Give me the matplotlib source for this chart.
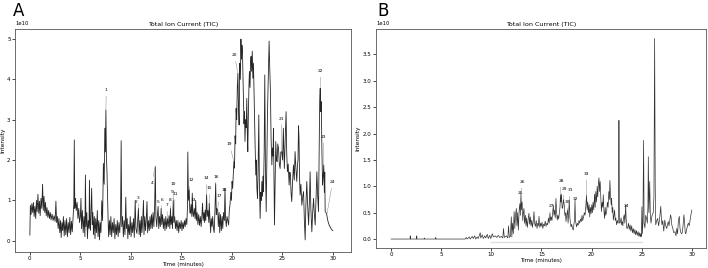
import numpy as np
import matplotlib
matplotlib.use("Agg")
import matplotlib.pyplot as plt

# ---- Panel A: TIC trace (time in minutes, intensity in 1e10) ----
time_a = [
    0.00, 0.05, 0.12, 0.20, 0.28, 0.35, 0.42, 0.50, 0.58, 0.65, 0.72, 0.80, 0.88, 0.95,
    1.02, 1.10, 1.18, 1.26, 1.33, 1.40, 1.48, 1.55, 1.62, 1.70, 1.78, 1.86, 1.94,
    2.02, 2.10, 2.20, 2.30, 2.40, 2.50, 2.58, 2.65, 2.72, 2.80, 2.88, 2.96,
    3.04, 3.10, 3.18, 3.25, 3.32, 3.40, 3.48, 3.56, 3.64, 3.72, 3.80, 3.88, 3.96,
    4.04, 4.12, 4.20, 4.28, 4.35, 4.40, 4.45, 4.52, 4.60, 4.68, 4.76, 4.84, 4.92, 5.00,
    5.06, 5.12, 5.20, 5.28, 5.36, 5.45, 5.50, 5.56, 5.64, 5.70, 5.78, 5.86, 5.90, 5.95, 6.00, 6.06,
    6.12, 6.18, 6.24, 6.30, 6.38, 6.45, 6.52, 6.60, 6.68, 6.75, 6.82, 6.90, 6.96,
    7.04, 7.12, 7.20, 7.28, 7.36, 7.42, 7.48, 7.53, 7.58, 7.64, 7.70, 7.76, 7.80, 7.88, 7.95,
    8.02, 8.10, 8.18, 8.26, 8.34, 8.42, 8.50, 8.58, 8.66, 8.74, 8.82, 8.90, 8.98,
    9.04, 9.10, 9.18, 9.26, 9.34, 9.42, 9.50, 9.56, 9.64, 9.70, 9.78, 9.86, 9.94,
    10.02, 10.10, 10.18, 10.26, 10.34, 10.43, 10.50, 10.60, 10.68, 10.75, 10.82, 10.90, 10.96,
    11.04, 11.10, 11.18, 11.25, 11.30, 11.38, 11.45, 11.52, 11.60, 11.66, 11.74, 11.82, 11.90, 11.97,
    12.05, 12.12, 12.20, 12.28, 12.36, 12.42, 12.48, 12.56, 12.62, 12.70, 12.76, 12.84, 12.92, 13.00,
    13.06, 13.14, 13.22, 13.30, 13.38, 13.46, 13.54, 13.62, 13.70, 13.78, 13.86, 13.92, 13.98,
    14.06, 14.12, 14.20, 14.26, 14.34, 14.42, 14.50, 14.58, 14.66, 14.74, 14.82, 14.90, 14.98,
    15.06, 15.14, 15.22, 15.30, 15.38, 15.46, 15.54, 15.60, 15.64, 15.70, 15.78, 15.84, 15.90, 15.96,
    16.04, 16.08, 16.14, 16.20, 16.28, 16.36, 16.42, 16.48, 16.56, 16.64, 16.72, 16.80, 16.88, 16.96,
    17.04, 17.10, 17.16, 17.24, 17.30, 17.36, 17.42, 17.50, 17.56, 17.64, 17.72, 17.76, 17.84, 17.90, 17.96,
    18.04, 18.10, 18.18, 18.25, 18.32, 18.40, 18.46, 18.52, 18.60, 18.66, 18.74, 18.80, 18.88, 18.96,
    19.04, 19.10, 19.18, 19.26, 19.32, 19.38, 19.45, 19.52, 19.60, 19.68, 19.75, 19.82, 19.90, 19.96,
    20.02, 20.08, 20.15, 20.20, 20.26, 20.32, 20.38, 20.42, 20.48, 20.54, 20.60, 20.66, 20.72, 20.78, 20.84, 20.90, 20.95, 21.00,
    21.05, 21.10, 21.15, 21.20, 21.25, 21.30, 21.36, 21.42, 21.48, 21.53, 21.58, 21.64, 21.70, 21.74, 21.80, 21.85, 21.90, 21.96,
    22.02, 22.08, 22.14, 22.20, 22.24, 22.30, 22.37, 22.42, 22.48, 22.54, 22.60, 22.67, 22.72, 22.80, 22.86, 22.92, 22.97,
    23.04, 23.10, 23.13, 23.20, 23.26, 23.32, 23.36, 23.40, 23.46, 23.53, 23.60, 23.65, 23.69, 23.75, 23.82, 23.88, 23.96,
    24.02, 24.08, 24.12, 24.17, 24.22, 24.28, 24.35, 24.42, 24.48, 24.55, 24.62, 24.70, 24.78, 24.85, 24.94,
    25.02, 25.10, 25.15, 25.20, 25.28, 25.37, 25.43, 25.50, 25.58, 25.67, 25.74, 25.80, 25.86, 25.93,
    26.00, 26.10, 26.18, 26.26, 26.34, 26.43, 26.50, 26.55, 26.60, 26.65, 26.70, 26.76, 26.84, 26.93,
    27.02, 27.10, 27.18, 27.26, 27.32, 27.42, 27.50, 27.60, 27.68, 27.75, 27.82, 27.92, 28.00,
    28.09, 28.16, 28.25, 28.33, 28.42, 28.50, 28.58, 28.64, 28.70, 28.75, 28.80, 28.85, 28.92, 28.98,
    29.04, 29.10, 29.16, 29.20, 29.24, 29.32, 29.40, 29.50, 29.63, 29.75, 29.90, 30.00,
]
tic_a = [
    0.14, 0.88, 0.65, 0.92, 0.70, 0.95, 0.60, 0.85, 0.55, 1.00, 0.72, 1.15, 0.68, 0.98,
    0.62, 1.05, 0.80, 1.40, 0.75, 1.10, 0.70, 0.95, 0.62, 0.82, 0.58, 0.75, 0.55,
    0.70, 0.52, 0.66, 0.50, 0.62, 0.48, 0.98, 0.45, 0.60, 0.30, 0.55, 0.20,
    0.50, 0.08, 0.45, 0.25, 0.60, 0.12, 0.50, 0.15, 0.55, 0.10, 0.45, 0.20, 0.58,
    0.15, 0.48, 0.22, 0.60, 0.90, 2.50, 0.80, 1.05, 0.75, 0.95, 0.55, 0.80, 0.45, 0.60,
    1.05, 0.30, 0.75, 0.20, 0.60, 0.10, 1.63, 0.35, 0.70, 0.05, 0.50, 0.30, 1.50, 0.40, 0.26, 0.80,
    1.30, 0.40, 0.70, 0.15, 0.60, 0.05, 0.55, 0.20, 0.75, 0.10, 0.50, 0.02, 0.45,
    0.20, 0.99, 0.50, 1.92, 1.40, 2.79, 2.20, 3.24, 2.10, 1.67, 0.99, 0.40, 0.10, 0.50, 0.15,
    0.60, 0.10, 0.45, 0.20, 0.55, 0.05, 0.40, 0.15, 0.50, 0.10, 0.45, 0.20, 0.60,
    2.48, 0.35, 0.60, 0.10, 0.50, 0.15, 1.08, 0.30, 0.55, 0.05, 0.40, 0.15, 0.60,
    0.10, 0.45, 0.20, 0.55, 0.08, 1.00, 0.30, 0.18, 0.50, 0.80, 0.15, 0.50, 0.10,
    0.60, 0.20, 0.55, 1.00, 0.15, 0.60, 0.25, 0.50, 0.97, 0.20, 0.50, 0.25, 0.60, 0.30,
    0.65, 0.30, 0.70, 0.35, 0.90, 1.84, 0.60, 0.35, 0.60, 0.85, 0.30, 0.60, 0.35, 0.80,
    0.40, 0.65, 0.30, 0.55, 0.25, 0.60, 0.30, 0.55, 0.35, 0.62, 0.30, 0.80, 0.40,
    0.60, 0.30, 1.00, 0.45, 0.60, 0.30, 0.50, 0.25, 0.50, 0.20, 0.45, 0.30, 0.50,
    0.25, 0.45, 0.30, 0.50, 0.35, 0.55, 0.40, 0.80, 2.20, 1.00, 1.26, 0.70, 0.68, 0.90,
    0.60, 1.18, 0.70, 0.60, 0.80, 0.55, 1.00, 0.50, 0.70, 0.40, 0.65, 0.38, 0.60, 0.35,
    0.65, 0.93, 0.50, 0.70, 0.45, 0.76, 0.50, 1.14, 0.60, 0.75, 0.45, 0.93, 0.50, 0.20, 0.55,
    0.35, 0.60, 0.30, 0.20, 0.70, 1.42, 0.65, 0.80, 0.76, 0.35, 0.70, 0.20, 0.65, 0.25,
    0.60, 0.30, 0.70, 0.50, 1.30, 0.55, 0.35, 0.60, 0.50, 0.39, 0.76, 0.90, 1.20, 1.00,
    1.47, 1.30, 1.70, 1.96, 1.80, 2.60, 2.40, 3.28, 3.00, 3.80, 4.15, 3.30, 2.87, 4.40, 4.00, 5.00, 4.50, 4.85,
    4.70, 4.10, 3.37, 2.90, 3.20, 2.46, 3.00, 2.80, 3.53, 2.70, 2.21, 3.20, 3.90, 4.20, 3.80, 4.40, 4.57, 4.20,
    4.70, 4.03, 4.40, 3.60, 3.20, 2.40, 1.63, 2.00, 1.30, 1.05, 1.80, 3.12, 1.50, 0.55, 1.20, 1.00, 1.47,
    1.10, 1.60, 1.22, 2.20, 4.11, 2.00, 1.30, 0.72, 1.90, 3.20, 4.00, 4.50, 4.95, 4.30, 3.70, 2.60, 1.88,
    2.30, 2.10, 2.79, 1.50, 0.39, 1.40, 2.46, 2.00, 1.96, 2.40, 2.29, 1.90, 1.79, 2.20, 2.21,
    2.00, 2.79, 2.20, 1.79, 2.50, 3.20, 2.20, 1.71, 1.90, 1.38, 1.70, 1.63, 1.20, 0.97,
    1.40, 1.88, 1.50, 2.21, 1.80, 1.47, 1.90, 2.00, 2.85, 2.54, 1.60, 1.13, 1.40, 0.88,
    1.10, 1.22, 0.50, 0.02, 0.80, 1.47, 0.90, 0.39, 1.00, 1.71, 0.80, 0.22, 0.70,
    1.05, 0.70, 0.39, 1.00, 1.71, 1.10, 0.72, 2.20, 3.50, 3.78, 3.20, 3.45, 2.20, 1.38,
    1.60, 1.88, 1.20, 1.70, 0.72, 0.70, 0.64, 0.50, 0.39, 0.33, 0.27, 0.25,
]

# peak labels, panel A
peak_num_a = [str(i) for i in range(1, 25)]
peak_time_a = [7.53, 10.43, 10.75, 12.42, 12.70, 13.00, 13.62, 13.92, 14.20, 14.20, 14.26, 15.78,
               16.08, 17.50, 17.76, 18.40, 18.60, 19.32, 20.20, 20.60, 24.94, 28.75, 29.10, 29.40]
label_time_a = [7.56, 10.50, 10.76, 12.08, 12.67, 13.10, 13.56, 13.90, 14.06, 14.19, 14.39, 15.94,
                16.14, 17.43, 17.79, 18.48, 18.71, 19.27, 19.77, 20.26, 24.95, 28.75, 29.10, 29.97]
label_int_a = [3.74, 0.97, 1.07, 1.44, 0.97, 1.02, 0.88, 1.02, 1.21, 1.40, 1.17, 1.50,
               1.00, 1.55, 1.30, 1.57, 1.12, 1.27, 2.39, 4.60, 3.03, 4.21, 2.58, 1.45]

# ---- Panel B ----
time_b = [
    0.00, 1.90, 1.92, 1.94, 2.55, 2.57, 2.59, 3.30, 3.32, 3.34, 4.45, 4.47, 4.49,
    7.40, 7.50, 7.60, 7.80, 7.90, 8.10, 8.20, 8.35, 8.45, 8.60, 8.70, 8.90, 8.95,
    9.10, 9.20, 9.35, 9.45, 9.60, 9.70, 9.85, 9.95,
    10.10, 10.20, 10.40, 10.55, 10.70, 10.85, 11.00, 11.15, 11.22, 11.30, 11.50, 11.65, 11.72, 11.80, 11.90,
    12.00, 12.05, 12.12, 12.20, 12.28, 12.35, 12.42, 12.50, 12.56, 12.63, 12.70, 12.78, 12.85, 12.90, 12.96,
    13.02, 13.08, 13.14, 13.20, 13.26, 13.32, 13.40, 13.46, 13.52, 13.60, 13.68, 13.76, 13.82, 13.90, 13.96,
    14.04, 14.10, 14.18, 14.26, 14.32, 14.40, 14.48, 14.56, 14.64, 14.70, 14.76, 14.84, 14.92, 14.98,
    15.06, 15.14, 15.22, 15.30, 15.38, 15.46, 15.54, 15.62, 15.70, 15.78, 15.85, 15.92, 15.98,
    16.05, 16.12, 16.19, 16.25, 16.32, 16.38, 16.45, 16.52, 16.58, 16.65, 16.72, 16.78, 16.85, 16.90, 16.95, 17.00,
    17.06, 17.12, 17.20, 17.28, 17.34, 17.40, 17.45, 17.52, 17.60, 17.66, 17.72, 17.78, 17.84, 17.90, 17.95,
    18.02, 18.10, 18.18, 18.25, 18.30, 18.35, 18.40, 18.50, 18.58, 18.66, 18.74, 18.82, 18.90, 18.98,
    19.05, 19.12, 19.20, 19.28, 19.35, 19.42, 19.50, 19.56, 19.62, 19.70, 19.76, 19.82, 19.88, 19.95,
    20.02, 20.08, 20.15, 20.22, 20.30, 20.36, 20.42, 20.50, 20.56, 20.62, 20.68, 20.74, 20.80, 20.86, 20.92, 20.98,
    21.05, 21.12, 21.17, 21.23, 21.30, 21.36, 21.42, 21.50, 21.58, 21.65, 21.72, 21.78, 21.83, 21.90, 21.96,
    22.00, 22.06, 22.12, 22.17, 22.24, 22.30, 22.36, 22.42, 22.50, 22.58, 22.65, 22.70, 22.73, 22.77, 22.82, 22.87, 22.95,
    23.00, 23.06, 23.12, 23.18, 23.26, 23.32, 23.40, 23.46, 23.52, 23.60, 23.68, 23.76, 23.84, 23.92,
    24.00, 24.08, 24.16, 24.24, 24.32, 24.40, 24.48, 24.56, 24.64, 24.72, 24.80, 24.86, 24.92, 24.97,
    25.02, 25.06, 25.12, 25.19, 25.24, 25.32, 25.40, 25.49, 25.56, 25.62, 25.66, 25.72, 25.80, 25.86, 25.93, 25.98,
    26.05, 26.15, 26.22, 26.29, 26.35, 26.40, 26.50, 26.59, 26.68, 26.75, 26.82, 26.90, 26.96,
    27.02, 27.10, 27.20, 27.30, 27.40, 27.50, 27.58, 27.65, 27.72, 27.80, 27.88, 27.94, 28.00,
    28.10, 28.20, 28.32, 28.42, 28.50, 28.58, 28.66, 28.75, 28.82, 28.88, 28.96,
    29.04, 29.12, 29.21, 29.28, 29.34, 29.40, 29.50, 29.58, 29.66, 29.74, 29.80, 29.90, 30.00,
]
tic_b = [
    0.00, 0.00, 0.06, 0.00, 0.00, 0.06, 0.00, 0.00, 0.02, 0.00, 0.00, 0.03, 0.00,
    0.00, 0.03, 0.00, 0.04, 0.00, 0.05, 0.01, 0.06, 0.00, 0.04, 0.01, 0.12, 0.02,
    0.08, 0.01, 0.06, 0.02, 0.09, 0.01, 0.07, 0.01,
    0.10, 0.04, 0.06, 0.03, 0.07, 0.03, 0.05, 0.02, 0.20, 0.03, 0.06, 0.02, 0.25, 0.03, 0.05,
    0.42, 0.04, 0.30, 0.10, 0.52, 0.20, 0.45, 0.58, 0.25, 0.50, 0.17, 0.55, 0.67, 0.45, 0.86,
    0.55, 0.70, 0.35, 0.50, 0.58, 0.30, 0.45, 0.25, 0.40, 0.22, 0.38, 0.49, 0.28, 0.42, 0.25,
    0.36, 0.22, 0.32, 0.52, 0.30, 0.24, 0.35, 0.20, 0.30, 0.25, 0.43, 0.22, 0.30, 0.24,
    0.32, 0.20, 0.28, 0.25, 0.34, 0.24, 0.30, 0.27, 0.40, 0.30, 0.49, 0.35, 0.42,
    0.35, 0.50, 0.64, 0.45, 0.55, 0.40, 0.77, 0.50, 0.36, 0.45, 0.38, 0.48, 0.60, 0.84, 0.70, 0.85,
    0.60, 0.58, 0.75, 0.64, 0.45, 0.50, 0.33, 0.45, 0.55, 0.30, 0.50, 0.74, 0.40, 0.30, 0.23,
    0.28, 0.20, 0.17, 0.30, 0.35, 0.74, 0.35, 0.23, 0.30, 0.26, 0.35, 0.30, 0.38, 0.33,
    0.45, 0.35, 0.42, 0.50, 0.45, 0.60, 0.83, 0.55, 0.70, 0.50, 0.65, 0.42, 0.60, 0.48,
    0.65, 0.50, 0.70, 0.55, 0.85, 0.60, 0.90, 0.70, 1.00, 0.80, 1.05, 1.16, 0.90, 1.09, 0.80, 0.52,
    0.70, 0.60, 0.84, 0.55, 0.39, 0.60, 0.45, 0.52, 0.70, 0.60, 0.90, 0.75, 1.11, 0.80, 0.65,
    0.77, 0.50, 0.60, 0.36, 0.45, 0.55, 0.35, 0.40, 0.27, 0.35, 0.30, 0.50, 2.25, 0.45, 0.30, 0.33, 0.40,
    0.27, 0.33, 0.25, 0.40, 0.46, 0.30, 0.64, 0.35, 0.20, 0.21, 0.30, 0.18, 0.27, 0.15,
    0.25, 0.12, 0.20, 0.10, 0.18, 0.08, 0.16, 0.07, 0.14, 0.05, 0.12, 0.04, 0.10, 0.05,
    0.61, 0.10, 0.30, 1.87, 0.30, 0.21, 0.45, 0.39, 0.30, 0.60, 1.56, 0.50, 1.09, 0.45, 0.30, 0.39,
    0.46, 0.50, 0.80, 3.80, 1.00, 0.27, 0.35, 0.39, 0.25, 0.33, 0.45, 0.62, 0.40,
    0.27, 0.35, 0.15, 0.36, 0.25, 0.20, 0.28, 0.33, 0.25, 0.35, 0.46, 0.40, 0.27,
    0.20, 0.12, 0.14, 0.06, 0.20, 0.10, 0.35, 0.43, 0.20, 0.14, 0.10,
    0.12, 0.25, 0.46, 0.30, 0.12, 0.10, 0.20, 0.27, 0.30, 0.25, 0.33, 0.45, 0.55,
]
# faint flat trace under the baseline
blank_time_b = [10.0, 25.0]
blank_b = [-0.05, -0.05]

peak_num_b = [str(i) for i in range(25, 35)]
peak_time_b = [12.96, 12.96, 15.85, 16.90, 17.20, 17.60, 17.78, 18.35, 19.50, 23.40]
label_time_b = [12.87, 13.13, 15.95, 16.97, 17.30, 17.57, 17.90, 18.35, 19.50, 23.50]
label_int_b = [0.88, 1.08, 0.63, 1.10, 0.95, 0.70, 0.93, 0.75, 1.24, 0.62]

SCALE = 1e10

fig = plt.figure(figsize=(7.08, 2.68), dpi=100)
ax_a = fig.add_axes([0.0212, 0.0597, 0.4746, 0.832])
ax_b = fig.add_axes([0.531, 0.0746, 0.466, 0.817])


def style_axes(ax):
    ax.set_title("Total Ion Current (TIC)", fontsize=4.6, pad=2.5)
    ax.set_xlabel("Time (minutes)", fontsize=4.0, labelpad=0.5)
    ax.set_ylabel("Intensity", fontsize=4.2, labelpad=1.5)
    ax.tick_params(labelsize=4.0, length=2, width=0.5, pad=1.2)
    ax.yaxis.get_offset_text().set_fontsize(3.8)
    for sp in ax.spines.values():
        sp.set_linewidth(0.6)
        sp.set_color("#555555")
    ax.set_xticks([0, 5, 10, 15, 20, 25, 30])


def add_labels(ax, t, v, nums, peaks, lt, lv):
    for n, pt, x, y in zip(nums, peaks, lt, lv):
        yp = np.interp(pt, t, v)
        ax.annotate(n, xy=(pt, yp * SCALE), xytext=(x, y * SCALE),
                    fontsize=3.2, ha="center", va="center",
                    arrowprops=dict(arrowstyle="-", lw=0.3, color="#777777",
                                    shrinkA=1, shrinkB=0))


# Panel A
ax_a.plot(time_a, np.array(tic_a) * SCALE, color="black", lw=0.6, alpha=0.85)
style_axes(ax_a)
ax_a.set_xlim(-1.47, 31.8)
ax_a.set_ylim(-0.28 * SCALE, 5.25 * SCALE)
ax_a.set_yticks(np.arange(0, 6) * SCALE)
add_labels(ax_a, time_a, tic_a, peak_num_a, peak_time_a, label_time_a, label_int_a)

# Panel B
ax_b.plot(blank_time_b, np.array(blank_b) * SCALE, color="#dddddd", lw=1.0)
ax_b.plot(time_b, np.array(tic_b) * SCALE, color="black", lw=0.5, alpha=0.8)
style_axes(ax_b)
ax_b.set_xlim(-1.5, 31.4)
ax_b.set_ylim(-0.17 * SCALE, 3.98 * SCALE)
ax_b.set_yticks(np.arange(0, 8) * 0.5 * SCALE)
add_labels(ax_b, time_b, tic_b, peak_num_b, peak_time_b, label_time_b, label_int_b)

fig.text(13 / 708, 1 - 2 / 268, "A", fontsize=12, va="top", ha="left")
fig.text(377 / 708, 1 - 2 / 268, "B", fontsize=12, va="top", ha="left")

fig.savefig("out.png", dpi=100)
